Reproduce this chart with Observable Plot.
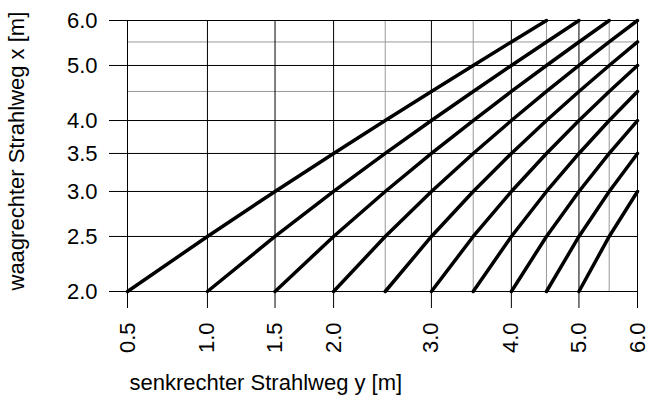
<!DOCTYPE html>
<html>
<head>
<meta charset="utf-8">
<script src="https://cdn.jsdelivr.net/npm/d3@7"></script>
<script src="https://cdn.jsdelivr.net/npm/@observablehq/plot@0.6"></script>
<style>
  html, body { margin: 0; padding: 0; background: #fff; }
  #chart { width: 658px; height: 401px; }
</style>
</head>
<body>
<div id="chart"></div>
<script>
// Tick values
const xTicks = [0.5, 1.0, 1.5, 2.0, 3.0, 4.0, 5.0, 6.0];   // senkrechter Strahlweg y (horizontal)
const xMinor = [2.5, 3.5, 4.5, 5.5];
const yTicks = [2.0, 2.5, 3.0, 3.5, 4.0, 5.0, 6.0];        // waagrechter Strahlweg x (vertical)
const yMinor = [4.5, 5.5];

// Vertical levels (waagrechter Strahlweg x) at which the curves were read
const xLevels = [2.0, 2.5, 3.0, 3.5, 4.0, 4.5, 5.0, 5.5, 6.0];

// senkrechter Strahlweg y of each curve at those levels
const curve1 = [0.5, 1.0, 1.5, 2.0, 2.5, 3.0, 3.5, 4.0, 4.5];
const curve2 = [1.0, 1.5, 2.0, 2.5, 3.0, 3.5, 4.0, 4.5, 5.0];
const curve3 = [1.5, 2.0, 2.5, 3.0, 3.5, 4.0, 4.5, 5.0, 5.5];
const curve4 = [2.0, 2.5, 3.0, 3.5, 4.0, 4.5, 5.0, 5.5, 6.0];
const curve5 = [2.5, 3.0, 3.5, 4.0, 4.5, 5.0, 5.5, 6.0];
const curve6 = [3.0, 3.5, 4.0, 4.5, 5.0, 5.5, 6.0];
const curve7 = [3.5, 4.0, 4.5, 5.0, 5.5, 6.0];
const curve8 = [4.0, 4.5, 5.0, 5.5, 6.0];
const curve9 = [4.5, 5.0, 5.5, 6.0];
const curve10 = [5.0, 5.5, 6.0];

const curves = [curve1, curve2, curve3, curve4, curve5, curve6, curve7, curve8, curve9, curve10];
const rows = curves.flatMap((c, k) => c.map((yv, i) => ({curve: k, y: yv, x: xLevels[i]})));

const xTitle = "senkrechter Strahlweg y [m]";
const yTitle = "waagrechter Strahlweg x [m]";

const font = "'Liberation Sans', Arial, Helvetica, sans-serif";
const fmt = d => d.toFixed(1);

const chart = Plot.plot({
  width: 658,
  height: 401,
  marginLeft: 127,
  marginRight: 21,
  marginTop: 20,
  marginBottom: 110,
  style: {fontFamily: font, background: "#fff", color: "#000"},
  x: {type: "symlog", constant: 2, domain: [0.5, 6]},
  y: {type: "log", domain: [2, 6]},
  marks: [
    Plot.gridX(xMinor, {stroke: "#999", strokeOpacity: 1}),
    Plot.gridY(yMinor, {stroke: "#999", strokeOpacity: 1}),
    Plot.gridX(xTicks, {stroke: "#000", strokeOpacity: 1}),
    Plot.gridY(yTicks, {stroke: "#000", strokeOpacity: 1}),
    Plot.line(rows, {x: "y", y: "x", z: "curve", stroke: "#000", strokeWidth: 3.5}),
    Plot.axisX(xTicks, {tickSize: 17, tickPadding: 14, tickRotate: -90, tickFormat: fmt, fontSize: 22, label: null}),
    Plot.axisY(yTicks, {tickSize: 18, tickPadding: 12, tickFormat: fmt, fontSize: 22, label: null}),
    Plot.text([xTitle], {text: d => d, frameAnchor: "bottom-left", textAnchor: "start", dx: 2, dy: 98, fontSize: 22}),
    Plot.text([yTitle], {text: d => d, frameAnchor: "bottom-left", textAnchor: "start", rotate: -90, dx: -104, dy: -1, fontSize: 22})
  ]
});
document.getElementById("chart").appendChild(chart);
</script>
</body>
</html>
